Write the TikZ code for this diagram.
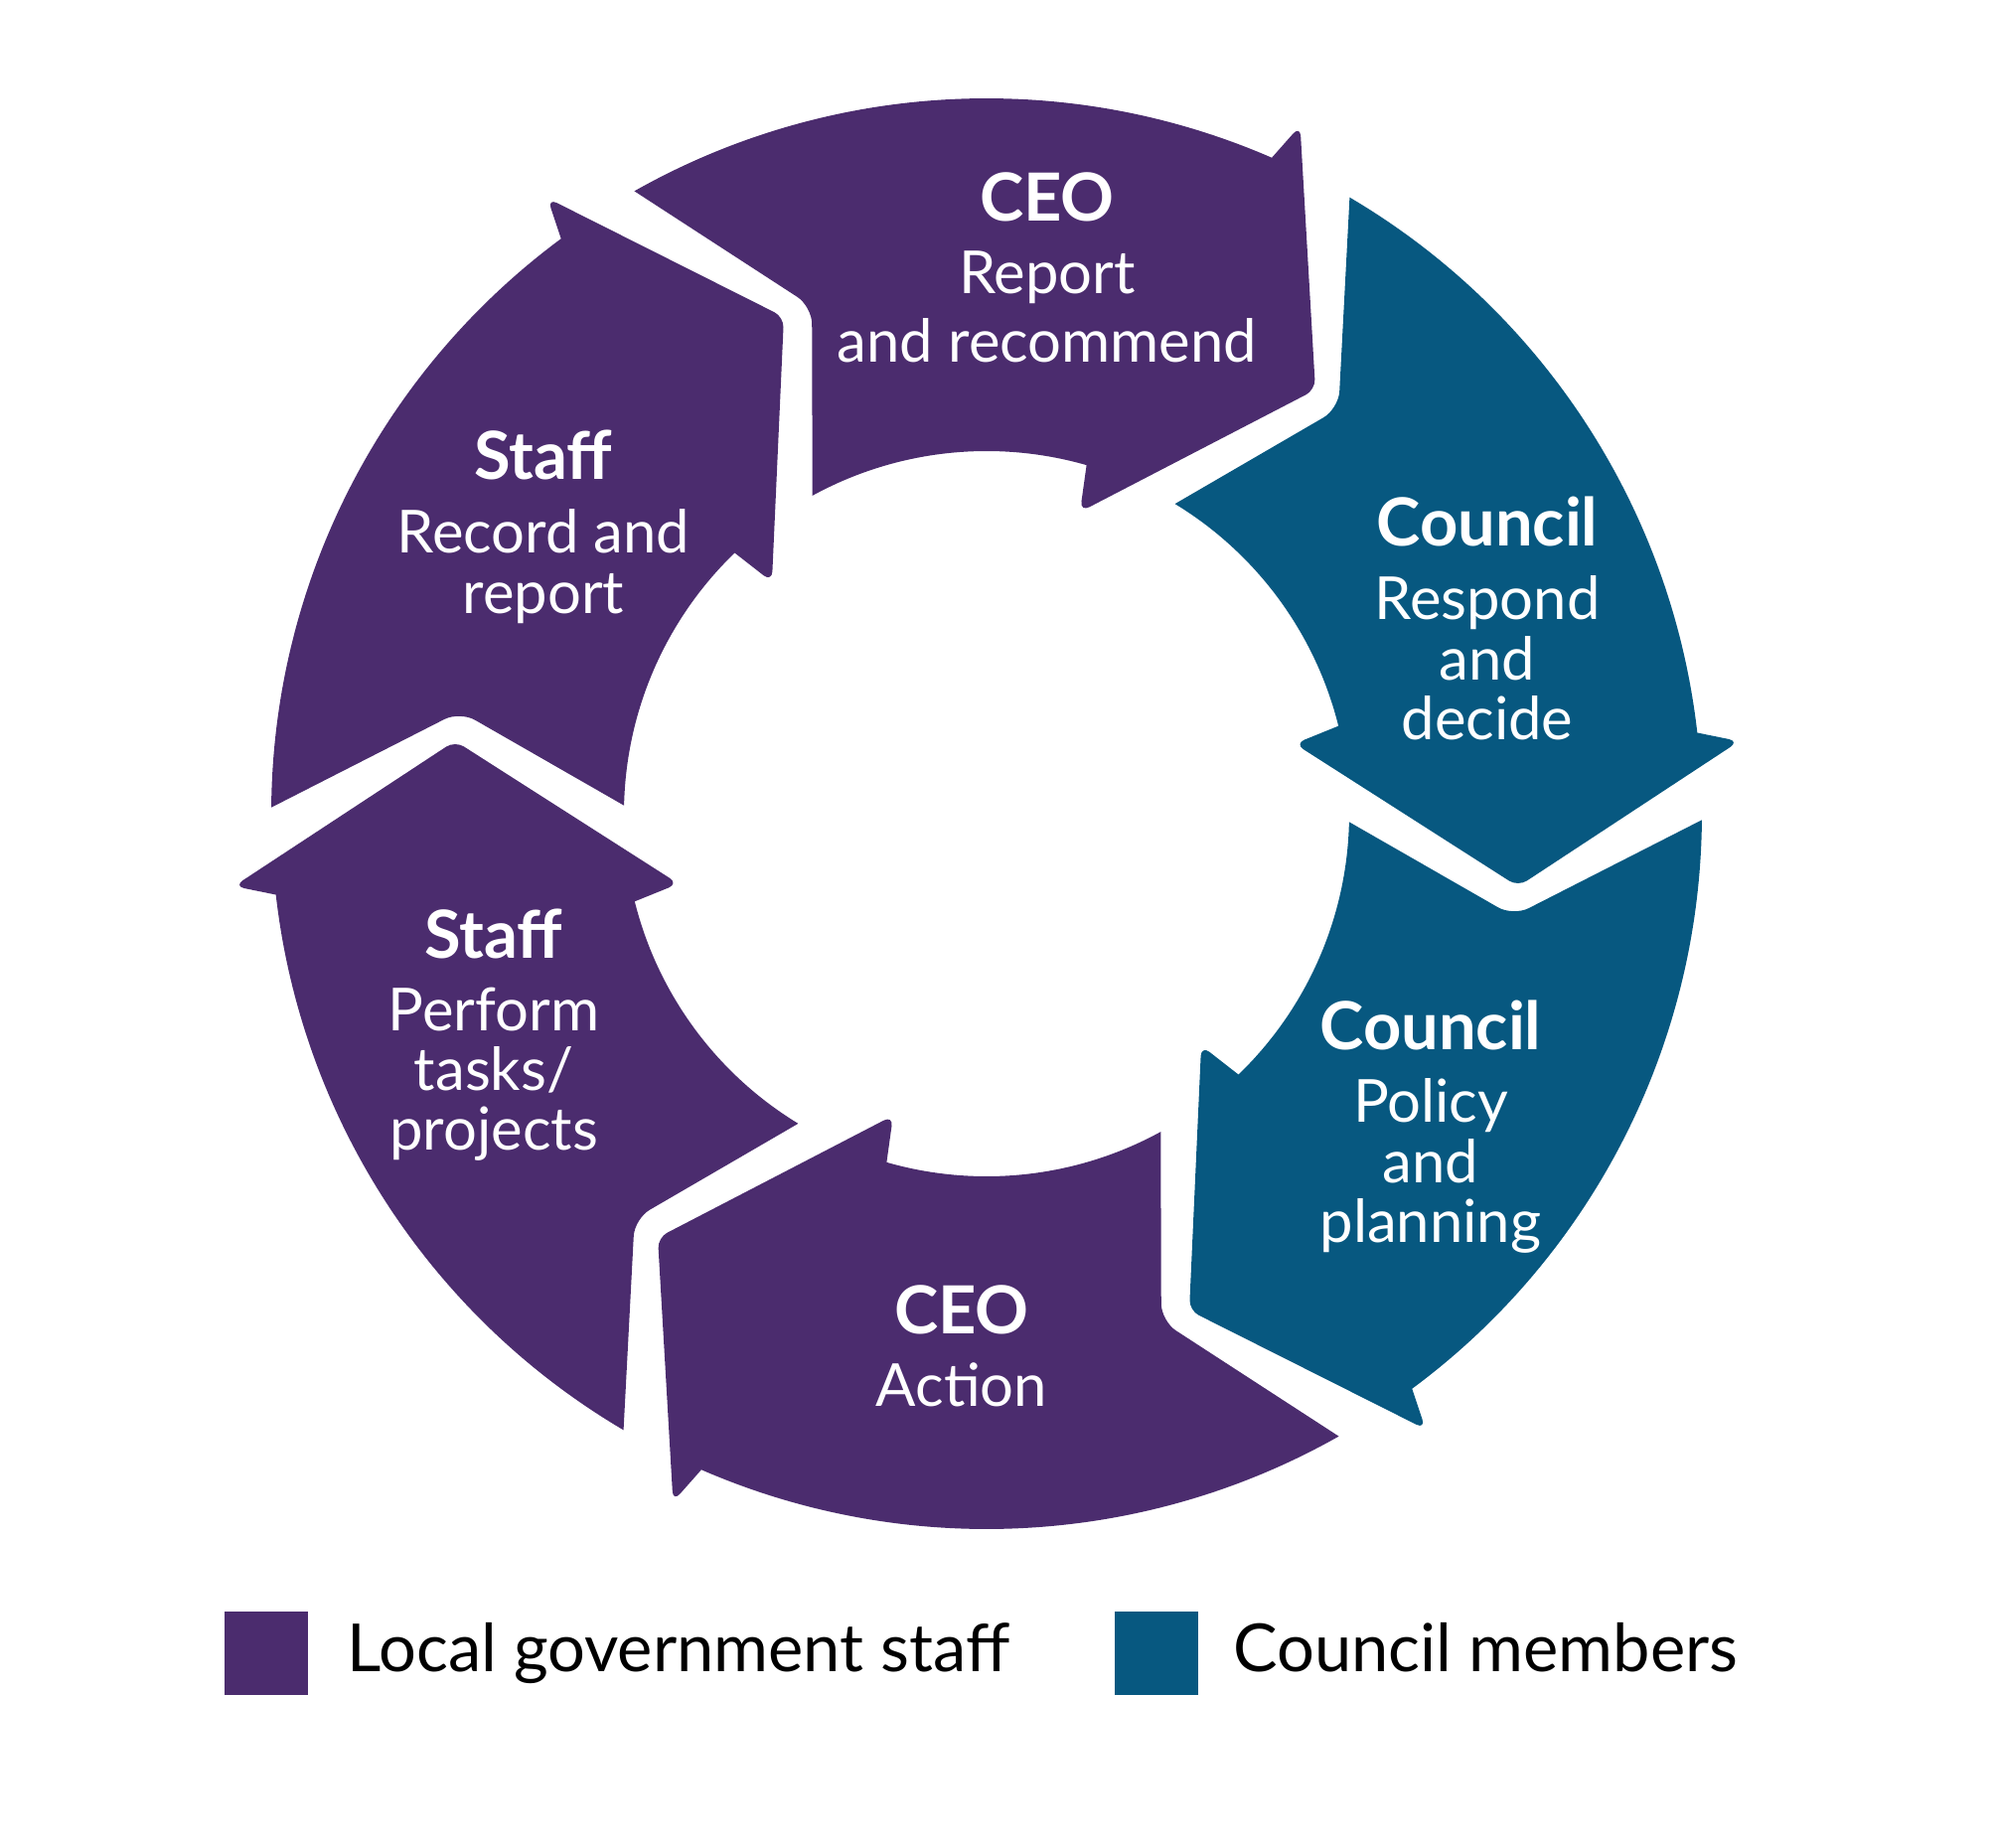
\documentclass[tikz,border=0pt]{standalone}
\usepackage{fontspec}
\setmainfont{Lato}
\usepackage{xcolor}
\usetikzlibrary{positioning}
\definecolor{staffPurple}{RGB}{75,44,110}
\definecolor{councilTeal}{RGB}{7,88,128}

\begin{document}
\begin{tikzpicture}[
    seg/.pic={
      \path[pic actions]
        (119.5:7.20) [rounded corners=5pt] -- (109:5.40)
        [sharp corners] -- (118.7:3.65)
        arc[start angle=118.7, end angle=74.0, radius=3.65]
        [rounded corners=3pt] -- (72.8:3.18) -- (52.2:5.40) -- (65.5:7.61)
        [sharp corners] -- (66.5:7.20)
        arc[start angle=66.5, end angle=119.5, radius=7.20] -- cycle;
    },
    ttl/.style={text=white, inner sep=0pt, anchor=base,
                font=\fontsize{19}{23}\selectfont\bfseries},
    body/.style={text=white, inner sep=0pt, align=center,
                 font=\fontsize{17}{17.1}\selectfont},
    key/.style={minimum size=0.84cm, inner sep=0pt},
    keytxt/.style={inner sep=0pt, text height=0.5cm, text depth=0.14cm,
                   font=\fontsize{19}{23}\selectfont}
  ]
  \useasboundingbox (-9.93,-10.40) rectangle (10.17,8.19);
  % Ring of arrows, clockwise from the top
  \pic[fill=staffPurple] {seg};
  \pic[fill=councilTeal, rotate=-60] {seg};
  \pic[fill=councilTeal, rotate=-120] {seg};
  \pic[fill=staffPurple, rotate=-180] {seg};
  \pic[fill=staffPurple, rotate=-240] {seg};
  \pic[fill=staffPurple, rotate=-300] {seg};
  % CEO: report
  \node[ttl] (ceoT) at (0.61,5.96) {CEO};
  \node[body, below=0.28cm of ceoT] (ceoB) {Report\\[0.09cm]and recommend};
  % Council: respond
  \node[ttl] (resT) at (5.04,2.69) {Council};
  \node[body, below=0.28cm of resT] (resB) {Respond\\and\\decide};
  % Council: policy
  \node[ttl] (polT) at (4.47,-2.37) {Council};
  \node[body, below=0.28cm of polT] (polB) {Policy\\and\\planning};
  % CEO: action
  \node[ttl] (actT) at (-0.25,-5.23) {CEO};
  \node[body, below=0.28cm of actT] (actB) {Action};
  % Staff: perform
  \node[ttl] (perT) at (-4.96,-1.45) {Staff};
  \node[body, below=0.28cm of perT] (perB) {Perform\\tasks/\\projects};
  % Staff: record
  \node[ttl] (recT) at (-4.46,3.36) {Staff};
  \node[body, below=0.28cm of recT] (recB) {Record and\\report};
  % Legend
  \node[key, fill=staffPurple] (keyStaff) at (-7.25,-8.45) {};
  \node[keytxt, right=0.38cm of keyStaff] (txtStaff) {Local government staff};
  \node[key, fill=councilTeal] (keyCouncil) at (1.71,-8.45) {};
  \node[keytxt, right=0.34cm of keyCouncil] (txtCouncil) {Council members};
\end{tikzpicture}
\end{document}
